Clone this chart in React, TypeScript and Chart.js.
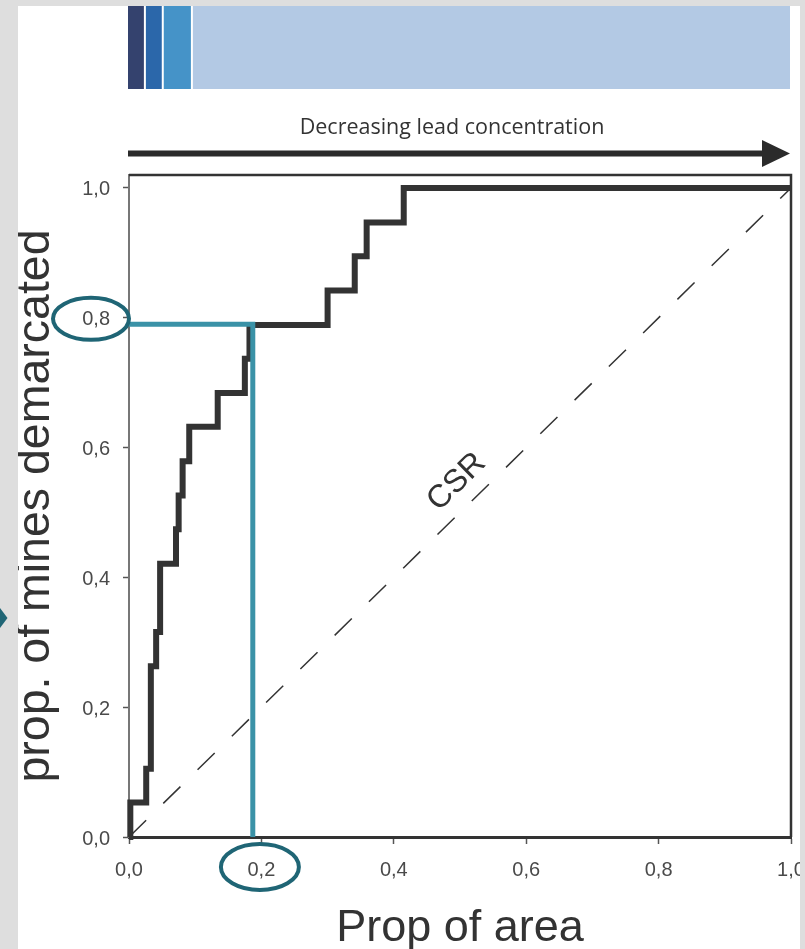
import { useEffect, useRef } from 'react';
import { Chart, registerables } from 'chart.js';

Chart.register(...registerables);

// ---- data ----
const areaProp = [0, 0.002, 0.026, 0.033, 0.041, 0.047, 0.071, 0.075, 0.081, 0.091, 0.134, 0.175, 0.182, 0.300, 0.341, 0.359, 0.415, 1.0];
const minesProp = [0, 0.053, 0.105, 0.263, 0.316, 0.421, 0.474, 0.526, 0.579, 0.632, 0.684, 0.737, 0.789, 0.842, 0.895, 0.947, 1.0, 1.0];
const csrX = [0, 1];
const csrY = [0, 1];
const cutoffArea = 0.187;
const cutoffMines = 0.79;
const xTicks = [0, 0.2, 0.4, 0.6, 0.8, 1.0];
const yTicks = [0, 0.2, 0.4, 0.6, 0.8, 1.0];
const classBounds = [0, 0.024, 0.051, 0.095, 1.0];
const classColors = ['#34426e', '#2b67aa', '#4593c8', '#b3c9e4'];
const topTitle = 'Decreasing lead concentration';
const xTitle = 'Prop of area';
const yTitle = 'prop. of mines demarcated';
const csrLabel = 'CSR';
const csrLabelPos = { x: 0.495, y: 0.547 };
const circledX = 0.2;
const circledY = 0.8;

const fmt = (v: number) => Number(v).toFixed(1).replace('.', ',');

const W = 805;
const H = 949;
const GRAY = '#dedede';
const TEAL_DARK = '#1f6575';

const decor = {
  id: 'decor',
  beforeDraw(chart: any) {
    const { ctx, chartArea: a, scales } = chart;
    const x = scales.x;
    ctx.save();
    ctx.fillStyle = GRAY;
    ctx.fillRect(0, 0, W, H);
    ctx.fillStyle = '#ffffff';
    ctx.fillRect(18, 6, 782, H - 6);
    // concentration class strips
    for (let i = 0; i < classColors.length; i++) {
      const x0 = x.getPixelForValue(classBounds[i]) + (i > 0 ? 1 : -1);
      const x1 = x.getPixelForValue(classBounds[i + 1]) - 1;
      ctx.fillStyle = classColors[i];
      ctx.fillRect(x0, 6, x1 - x0, 83);
    }
    // heading
    ctx.fillStyle = '#333333';
    ctx.font = '21.5px "Open Sans", sans-serif';
    ctx.textAlign = 'center';
    ctx.textBaseline = 'alphabetic';
    ctx.fillText(topTitle, 452, 134);
    // arrow
    ctx.fillStyle = '#2b2b2b';
    ctx.fillRect(a.left - 1, 150.5, 766 - a.left, 6);
    ctx.beginPath();
    ctx.moveTo(762, 140);
    ctx.lineTo(790, 153.5);
    ctx.lineTo(762, 167);
    ctx.closePath();
    ctx.fill();
    ctx.restore();
  },
  afterDatasetsDraw(chart: any) {
    const { ctx, chartArea: a, scales } = chart;
    const x = scales.x;
    const y = scales.y;
    ctx.save();
    // frame top / right
    ctx.strokeStyle = '#333333';
    ctx.lineWidth = 2.5;
    ctx.beginPath();
    ctx.moveTo(a.left, a.top);
    ctx.lineTo(a.right, a.top);
    ctx.lineTo(a.right, a.bottom);
    ctx.stroke();
    // CSR label
    const ang = Math.atan2(
      y.getPixelForValue(1) - y.getPixelForValue(0),
      x.getPixelForValue(1) - x.getPixelForValue(0)
    );
    ctx.translate(x.getPixelForValue(csrLabelPos.x), y.getPixelForValue(csrLabelPos.y));
    ctx.rotate(ang);
    ctx.fillStyle = '#333333';
    ctx.font = '32px "Liberation Sans", Arial, sans-serif';
    ctx.textAlign = 'center';
    ctx.textBaseline = 'middle';
    ctx.fillText(csrLabel, 0, 0);
    ctx.restore();
  },
  afterDraw(chart: any) {
    const { ctx, chartArea: a, scales } = chart;
    const x = scales.x;
    const y = scales.y;
    ctx.save();
    // highlight ellipses
    ctx.strokeStyle = TEAL_DARK;
    ctx.lineWidth = 4;
    ctx.beginPath();
    ctx.ellipse(a.left - 38, y.getPixelForValue(circledY) + 1, 38, 21, 0, 0, Math.PI * 2);
    ctx.stroke();
    ctx.beginPath();
    ctx.ellipse(x.getPixelForValue(circledX) - 1.5, a.bottom + 30, 39, 23, 0, 0, Math.PI * 2);
    ctx.stroke();
    // outer grey margins
    ctx.fillStyle = GRAY;
    ctx.fillRect(0, 0, 18, H);
    ctx.fillRect(800, 0, W - 800, H);
    ctx.fillRect(0, 0, W, 6);
    // pointer triangle on the left edge
    ctx.fillStyle = TEAL_DARK;
    ctx.beginPath();
    ctx.moveTo(0, 608);
    ctx.lineTo(7.5, 618);
    ctx.lineTo(0, 628);
    ctx.closePath();
    ctx.fill();
    ctx.restore();
  },
};

export default function App() {
  const ref = useRef<HTMLCanvasElement | null>(null);

  useEffect(() => {
    if (!ref.current) return;
    Chart.defaults.font.family = '"Liberation Sans", Arial, sans-serif';
    const chart = new Chart(ref.current, {
      type: 'scatter',
      data: {
        datasets: [
          {
            label: 'cut-off',
            data: [
              { x: 0, y: cutoffMines },
              { x: cutoffArea, y: cutoffMines },
              { x: cutoffArea, y: 0 },
            ],
            showLine: true,
            borderColor: '#3a92a7',
            borderWidth: 5,
            pointRadius: 0,
            borderJoinStyle: 'miter',
            borderCapStyle: 'butt',
            clip: false,
            order: 0,
          },
          {
            label: 'mines',
            data: areaProp.map((v, i) => ({ x: v, y: minesProp[i] })),
            showLine: true,
            stepped: 'before',
            borderColor: '#333333',
            borderWidth: 6,
            pointRadius: 0,
            borderJoinStyle: 'miter',
            clip: false,
            order: 1,
          },
          {
            label: 'CSR',
            data: csrX.map((v, i) => ({ x: v, y: csrY[i] })),
            showLine: true,
            borderColor: '#333333',
            borderWidth: 1.5,
            borderDash: [24, 24],
            pointRadius: 0,
            order: 2,
          },
        ],
      } as any,
      options: {
        responsive: false,
        animation: false,
        events: [],
        layout: { padding: { left: 0, right: 14, top: 175, bottom: 0 } },
        plugins: { legend: { display: false }, tooltip: { enabled: false } },
        scales: {
          x: {
            type: 'linear',
            min: 0,
            max: 1,
            afterBuildTicks: (s: any) => {
              s.ticks = xTicks.map((v) => ({ value: v }));
            },
            afterFit: (s: any) => {
              s.height = 112;
              s.paddingLeft = 0;
              s.paddingRight = 0;
              s.paddingTop = 0;
              s.paddingBottom = 0;
            },
            ticks: {
              callback: (v: any) => fmt(v),
              font: { size: 20 },
              color: '#4a4a4a',
              padding: 14,
              maxRotation: 0,
              autoSkip: false,
            },
            grid: {
              display: true,
              drawOnChartArea: false,
              drawTicks: true,
              tickLength: 7,
              tickColor: '#555555',
              tickWidth: 1.5,
            },
            border: { display: true, color: '#333333', width: 3 },
            title: {
              display: true,
              text: xTitle,
              color: '#333333',
              font: { size: 45, lineHeight: 0.92 },
              padding: { top: 0, bottom: 0 },
            },
          },
          y: {
            type: 'linear',
            min: 0,
            max: 1.02,
            afterBuildTicks: (s: any) => {
              s.ticks = yTicks.map((v) => ({ value: v }));
            },
            afterFit: (s: any) => {
              s.width = 129;
              s.paddingLeft = 0;
              s.paddingRight = 0;
              s.paddingTop = 0;
              s.paddingBottom = 0;
            },
            ticks: {
              callback: (v: any) => fmt(v),
              font: { size: 20 },
              color: '#4a4a4a',
              padding: 13,
              labelOffset: 2,
              autoSkip: false,
            },
            grid: {
              display: true,
              drawOnChartArea: false,
              drawTicks: true,
              tickLength: 6,
              tickColor: '#555555',
              tickWidth: 1.5,
            },
            border: { display: true, color: '#777777', width: 2 },
            title: {
              display: true,
              text: yTitle,
              color: '#333333',
              font: { size: 46.5, lineHeight: 1 },
              padding: { top: 13, bottom: 0 },
            },
          },
        },
      } as any,
      plugins: [decor],
    });
    return () => chart.destroy();
  }, []);

  return (
    <div style={{ position: 'fixed', left: 0, top: 0, width: W, height: H, background: GRAY }}>
      <canvas ref={ref} width={W} height={H} style={{ display: 'block' }} />
    </div>
  );
}
